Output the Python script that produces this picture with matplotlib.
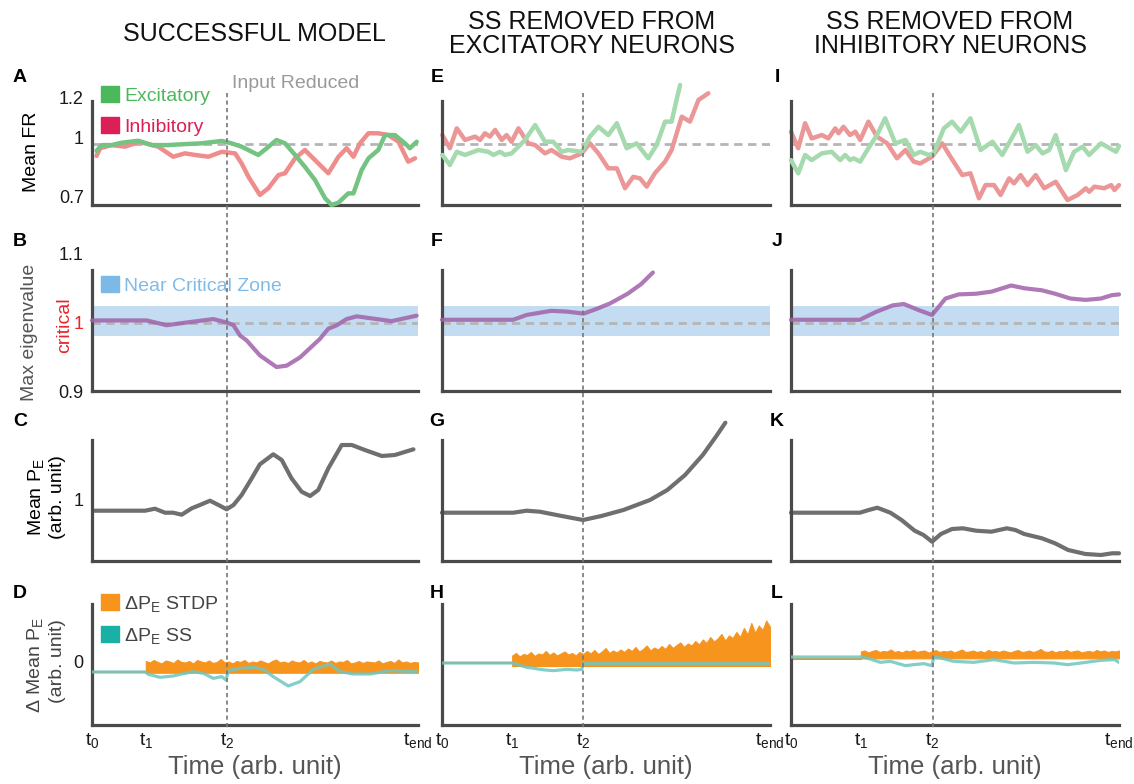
import numpy as np
import matplotlib
matplotlib.use('Agg')
import matplotlib.pyplot as plt
from matplotlib.patches import Patch
from matplotlib.lines import Line2D
import matplotlib.transforms as mtransforms

plt.rcParams['font.family'] = ['Liberation Sans', 'DejaVu Sans']
plt.rcParams['mathtext.fontset'] = 'custom'
plt.rcParams['mathtext.rm'] = 'Liberation Sans'
plt.rcParams['mathtext.it'] = 'Liberation Sans:italic'
plt.rcParams['mathtext.bf'] = 'Liberation Sans:bold'

# ---------------- data ----------------
col_titles = ['SUCCESSFUL MODEL', 'SS REMOVED FROM\nEXCITATORY NEURONS',
              'SS REMOVED FROM\nINHIBITORY NEURONS']
panel_letters = [['A', 'B', 'C', 'D'], ['E', 'F', 'G', 'H'], ['I', 'J', 'K', 'L']]
time_tick_labels = ['t$_0$', 't$_1$', 't$_2$', 't$_{\\rm end}$']
time_marks = [[0, 16.5, 41.4, 100], [0, 21.4, 43.0, 100], [0, 21.3, 43.2, 100]]

# Row A: mean firing rate
t_exc_A = [1.4, 3.0, 6.0, 9.1, 14.2, 18.3, 23.4, 28.5, 33.6, 39.8, 42.8, 45.9, 51.0, 53.6, 56.6,
           59.2, 62.3, 65.3, 68.4, 71.5, 73.5, 75.6, 78.6, 80.2, 82.7, 84.8, 87.8, 89.9, 92.9,
           96.0, 97.5, 99.6]
fr_exc_A = [0.930, 0.959, 0.959, 0.971, 0.981, 0.959, 0.959, 0.964, 0.968, 0.980, 0.968, 0.951,
            0.909, 0.943, 0.985, 0.968, 0.909, 0.849, 0.782, 0.689, 0.655, 0.667, 0.714, 0.714,
            0.832, 0.892, 0.934, 1.010, 1.010, 0.968, 0.943, 0.976]
t_inh_A = [1.4, 2.5, 6.0, 10.1, 14.7, 20.3, 24.9, 28.5, 31.6, 35.7, 39.8, 43.9, 45.9, 48.0, 51.5,
           54.1, 57.2, 59.2, 62.3, 65.3, 68.4, 72.5, 75.6, 78.1, 80.2, 82.2, 84.8, 87.8, 90.9,
           94.0, 97.0, 99.1]
fr_inh_A = [0.904, 0.943, 0.959, 0.951, 0.976, 0.951, 0.900, 0.917, 0.909, 0.900, 0.925, 0.917,
            0.866, 0.798, 0.706, 0.740, 0.807, 0.816, 0.892, 0.934, 0.883, 0.816, 0.900, 0.943,
            0.900, 0.968, 1.019, 1.019, 1.010, 0.976, 0.875, 0.892]

t_exc_E = [0.1, 2.4, 4.5, 7.0, 11.1, 14.1, 15.7, 17.7, 19.2, 21.2, 23.3, 25.3, 28.4, 31.4, 33.9,
           36.5, 38.5, 42.6, 45.1, 47.7, 50.7, 53.3, 56.3, 59.3, 62.9, 65.4, 68.0, 70.0, 71.5, 72.6]
fr_exc_E = [0.909, 0.858, 0.925, 0.909, 0.934, 0.925, 0.909, 0.925, 0.909, 0.917, 0.951, 0.985,
            1.061, 0.976, 0.976, 0.925, 0.934, 0.925, 1.002, 1.052, 1.010, 1.070, 0.943, 0.968,
            0.892, 0.959, 1.078, 1.078, 1.188, 1.264]
t_inh_E = [0.1, 2.4, 4.5, 7.0, 10.1, 11.6, 13.1, 14.6, 16.2, 18.2, 19.7, 21.2, 23.3, 26.3, 28.4,
           31.4, 33.4, 36.5, 39.0, 42.6, 45.1, 47.7, 50.7, 53.3, 55.8, 58.3, 60.4, 62.4, 64.9,
           68.0, 70.0, 73.1, 75.6, 78.2, 81.2]
fr_inh_E = [1.010, 0.943, 1.044, 0.985, 1.002, 0.985, 1.019, 1.002, 1.036, 0.985, 1.010, 0.976,
            1.044, 0.968, 0.959, 0.917, 0.934, 0.900, 0.892, 0.917, 0.968, 0.917, 0.841, 0.841,
            0.740, 0.798, 0.790, 0.748, 0.816, 0.875, 0.934, 1.103, 1.078, 1.188, 1.222]

t_exc_I = [0, 2.2, 4.3, 6.3, 9.4, 12.4, 15.0, 16.5, 18.0, 19.1, 21.1, 23.6, 26.2, 28.7, 31.8,
           34.9, 37.4, 39.4, 42.0, 43.5, 46.6, 49.1, 51.7, 54.7, 57.8, 61.4, 64.4, 67.0, 69.5,
           72.1, 74.6, 76.7, 78.7, 80.7, 83.8, 86.3, 88.9, 90.9, 94.5, 99.1, 100]
fr_exc_I = [0.883, 0.816, 0.909, 0.883, 0.917, 0.925, 0.883, 0.909, 0.883, 0.892, 0.875, 0.943,
            1.010, 1.095, 0.968, 0.985, 0.909, 0.925, 0.909, 0.917, 1.044, 1.078, 1.027, 1.095,
            0.934, 0.976, 0.909, 0.985, 1.061, 0.925, 0.959, 0.917, 0.934, 1.010, 0.832, 0.925,
            0.951, 0.909, 0.968, 0.925, 0.954]
t_inh_I = [0, 2.2, 4.3, 6.3, 9.4, 11.4, 13.5, 14.5, 16.0, 18.0, 19.6, 21.1, 23.6, 26.2, 29.3,
           32.3, 34.9, 37.4, 39.4, 43.0, 46.1, 48.6, 52.2, 54.7, 57.3, 59.3, 61.9, 63.9, 66.5,
           68.0, 70.0, 72.1, 74.6, 77.2, 80.7, 84.3, 87.4, 89.9, 90.9, 92.5, 95.5, 97.6, 98.6, 100]
fr_inh_I = [1.027, 0.943, 1.070, 0.993, 1.010, 0.993, 1.044, 1.019, 1.052, 1.010, 1.027, 0.985,
            1.078, 1.002, 0.968, 0.892, 0.934, 0.875, 0.866, 0.900, 0.968, 0.900, 0.807, 0.816,
            0.689, 0.756, 0.756, 0.706, 0.790, 0.765, 0.807, 0.756, 0.807, 0.740, 0.773, 0.680,
            0.706, 0.740, 0.722, 0.748, 0.740, 0.756, 0.731, 0.756]
fr_target = 0.965

# Row B: max eigenvalue
t_eig_B = [0, 16.8, 22.9, 29.0, 37.2, 41.3, 43.4, 45.4, 47.4, 51.5, 56.6, 59.7, 63.8, 69.9,
           72.5, 75.1, 78.1, 81.2, 87.3, 91.9, 99.6]
eig_B = [1.003, 1.003, 0.996, 1.000, 1.005, 1.000, 0.996, 0.981, 0.974, 0.952, 0.935, 0.937,
         0.949, 0.976, 0.991, 0.996, 1.005, 1.009, 1.005, 1.002, 1.010]
t_eig_F = [0, 21.7, 25.8, 33.2, 37.9, 43.2, 47.2, 51.3, 56.6, 60.7, 64.3]
eig_F = [1.004, 1.004, 1.011, 1.017, 1.016, 1.013, 1.020, 1.028, 1.042, 1.056, 1.073]
t_eig_J = [0, 21.0, 25.7, 31.0, 34.4, 39.0, 43.0, 47.1, 51.1, 56.4, 61.1, 67.1, 71.1, 76.5,
           80.5, 85.2, 89.8, 94.5, 97.9, 100]
eig_J = [1.004, 1.004, 1.015, 1.025, 1.027, 1.018, 1.011, 1.035, 1.041, 1.042, 1.045, 1.054,
         1.050, 1.047, 1.042, 1.035, 1.033, 1.035, 1.040, 1.041]
critical_value = 1.0
near_critical_zone = (0.980, 1.024)

# Row C: mean P_E
t_pe_C = [0.4, 16.3, 19.3, 22.4, 24.9, 27.5, 30.6, 33.1, 36.2, 38.8, 41.3, 43.4, 45.9, 49.0,
          51.5, 55.6, 58.2, 61.2, 64.3, 66.9, 69.4, 72.5, 76.6, 79.7, 83.7, 88.9, 92.9, 98.6]
pe_C = [0.893, 0.893, 0.913, 0.873, 0.873, 0.853, 0.917, 0.950, 0.993, 0.950, 0.907, 0.950,
        1.050, 1.217, 1.357, 1.457, 1.400, 1.217, 1.083, 1.040, 1.100, 1.317, 1.550, 1.550,
        1.500, 1.440, 1.450, 1.507]
t_pe_G = [0, 21.7, 25.8, 29.8, 36.5, 43.0, 48.6, 55.3, 63.4, 68.7, 74.1, 79.5, 83.5, 86.4]
pe_G = [0.873, 0.873, 0.893, 0.883, 0.840, 0.800, 0.840, 0.900, 1.000, 1.100, 1.250, 1.450,
        1.633, 1.773]
t_pe_K = [0, 21.0, 23.7, 26.3, 30.3, 33.7, 37.7, 40.4, 43.0, 45.7, 49.1, 52.4, 56.4, 61.1,
          65.8, 68.4, 71.1, 76.5, 80.5, 84.5, 89.8, 94.5, 97.9, 100]
pe_K = [0.873, 0.873, 0.900, 0.923, 0.873, 0.800, 0.693, 0.650, 0.583, 0.660, 0.710, 0.717,
        0.693, 0.683, 0.717, 0.700, 0.660, 0.617, 0.567, 0.500, 0.460, 0.450, 0.467, 0.467]

# Row D: change of mean P_E (SS line and STDP bars)
t_ss_D = [0, 16.3, 17.3, 20.9, 24.9, 27.5, 31.1, 34.2, 37.2, 39.8, 41.1, 41.8, 45.4, 49.5,
          52.6, 55.6, 60.2, 63.8, 67.9, 73.0, 76.1, 80.2, 85.3, 91.4, 99.6]
ss_D = [0, 0, -0.047, -0.107, -0.080, -0.040, 0.007, -0.027, -0.127, -0.093, -0.160, 0.027,
        0.073, 0.093, 0.053, -0.093, -0.280, -0.193, 0.053, 0.160, 0.007, -0.040, -0.040,
        0.027, 0.007]
t_ss_H = [0, 21.7, 25.8, 27.5, 29.9, 31.5, 33.9, 36.0, 38.0, 41.1, 42.6, 43.1, 100]
ss_H = [0, 0, -0.087, -0.100, -0.127, -0.140, -0.153, -0.140, -0.127, -0.140, -0.127, -0.013,
        -0.013]
t_ss_L = [0, 21.6, 24.2, 27.2, 30.3, 34.9, 37.4, 40.5, 43.0, 43.5, 45.6, 49.6, 55.7, 61.9,
          68.0, 74.1, 80.2, 84.3, 88.4, 94.5, 98.6, 100]
ss_L = [0, 0, -0.040, -0.107, -0.087, -0.173, -0.153, -0.133, -0.173, 0, -0.020, -0.087,
        -0.107, -0.053, -0.120, -0.107, -0.120, -0.153, -0.120, -0.067, -0.053, -0.107]

stdp_top_D = [0.22, 0.19, 0.24, 0.20, 0.17, 0.23, 0.21, 0.18, 0.25, 0.20,
              0.19, 0.22, 0.17, 0.24, 0.21, 0.19, 0.23, 0.18, 0.20, 0.26,
              0.19, 0.21, 0.17, 0.22, 0.20, 0.24, 0.18, 0.21, 0.19, 0.23,
              0.20, 0.17, 0.22, 0.25, 0.19, 0.21, 0.18, 0.23, 0.20, 0.19,
              0.24, 0.18, 0.21, 0.17, 0.22, 0.20, 0.19, 0.23, 0.18, 0.21,
              0.20, 0.24, 0.17, 0.19, 0.22, 0.18, 0.21, 0.20, 0.19, 0.23,
              0.17, 0.20, 0.22, 0.18, 0.25, 0.19, 0.21, 0.18, 0.20, 0.19]
stdp_top_H = [0.15, 0.20, 0.13, 0.18, 0.16, 0.22, 0.14, 0.19, 0.17, 0.24,
              0.16, 0.21, 0.15, 0.19, 0.23, 0.17, 0.20, 0.15, 0.22, 0.18,
              0.24, 0.19, 0.26, 0.18, 0.23, 0.30, 0.20, 0.25, 0.21, 0.27,
              0.22, 0.29, 0.24, 0.32, 0.23, 0.28, 0.35, 0.25, 0.31, 0.27,
              0.34, 0.28, 0.38, 0.30, 0.36, 0.41, 0.32, 0.39, 0.35, 0.44,
              0.37, 0.47, 0.40, 0.52, 0.43, 0.49, 0.58, 0.45, 0.55, 0.50,
              0.62, 0.52, 0.70, 0.57, 0.80, 0.60, 0.75, 0.66, 0.85, 0.72]
stdp_top_L = [0.11, 0.13, 0.09, 0.12, 0.14, 0.10, 0.12, 0.11, 0.15, 0.10,
              0.12, 0.09, 0.13, 0.11, 0.14, 0.10, 0.12, 0.13, 0.09, 0.11,
              0.14, 0.10, 0.12, 0.11, 0.13, 0.09, 0.12, 0.15, 0.10, 0.11,
              0.13, 0.10, 0.12, 0.09, 0.14, 0.11, 0.12, 0.10, 0.13, 0.11,
              0.09, 0.12, 0.14, 0.10, 0.11, 0.13, 0.10, 0.12, 0.16, 0.11,
              0.10, 0.13, 0.09, 0.12, 0.11, 0.14, 0.10, 0.12, 0.13, 0.09,
              0.11, 0.12, 0.10, 0.14, 0.11, 0.13, 0.10, 0.12, 0.11, 0.13]
stdp_floor = [-0.015, -0.06, -0.027]
stdp_pre = [0.0, 0.0, -0.04]

# ---------------- style ----------------
GREEN = ['#74c382', '#a5d9ae', '#a5d9ae']
RED = ['#ef8c8c', '#ec9797', '#ec9797']
PURPLE = '#a062aa'
GRAYLINE = '#6f6f6f'
TEAL = '#6fc6c1'
ORANGE = '#f7941e'
BAND = '#c4dcf1'
SPINE = '#4a4a4a'
DASH = '#b5b5b5'

W, H = 1134, 784
fig = plt.figure(figsize=(W / 100, H / 100), dpi=100)


def rect(l, r, t, b):
    return [l / W, 1 - b / H, (r - l) / W, (b - t) / H]


col_px = [(92, 418), (442, 770), (791, 1119)]
row_px = [(84, 205), (254, 391), (420, 561), (604, 725)]
row_ylim = [[(0.655, 1.269)] * 3, [(0.9, 1.1)] * 3, [(0.39, 1.80)] * 3,
            [(-1.06, 1.36), (-1.24, 1.18), (-1.36, 1.06)]]
row_spine = [(0.655, 1.183), (0.9, 1.077), (0.39, 1.60), None]

axes = [[None] * 4 for _ in range(3)]
for c in range(3):
    for r in range(4):
        ax = fig.add_axes(rect(col_px[c][0], col_px[c][1], row_px[r][0], row_px[r][1]))
        ax.set_xlim(0, 100)
        ax.set_ylim(*row_ylim[r][c])
        ax.patch.set_alpha(0)
        for s in ['top', 'right']:
            ax.spines[s].set_visible(False)
        for s in ['left', 'bottom']:
            ax.spines[s].set_color(SPINE)
            ax.spines[s].set_linewidth(2.3)
        if row_spine[r] is not None:
            ax.spines['left'].set_bounds(*row_spine[r])
        ax.tick_params(length=0, labelsize=13, pad=6, colors='#1a1a1a')
        ax.set_xticks([])
        ax.set_yticks([])
        axes[c][r] = ax

LINE_KW = dict(solid_capstyle='round', solid_joinstyle='round', clip_on=False)

# Row A
fr_sets = [(t_exc_A, fr_exc_A, t_inh_A, fr_inh_A), (t_exc_E, fr_exc_E, t_inh_E, fr_inh_E),
           (t_exc_I, fr_exc_I, t_inh_I, fr_inh_I)]
for c in range(3):
    ax = axes[c][0]
    te, fe, ti, fi = fr_sets[c]
    ax.axhline(fr_target, color=DASH, lw=2.0, ls=(0, (3, 2)), zorder=1)
    ax.plot(te, fe, color=GREEN[c], lw=3.2, zorder=3, **LINE_KW)
    ax.plot(ti, fi, color=RED[c], lw=3.2, zorder=2, **LINE_KW)

# Row B
eig_sets = [(t_eig_B, eig_B), (t_eig_F, eig_F), (t_eig_J, eig_J)]
for c in range(3):
    ax = axes[c][1]
    ax.axhspan(*near_critical_zone, color=BAND, lw=0, zorder=1)
    ax.axhline(critical_value, color=DASH, lw=2.0, ls=(0, (3, 2)), zorder=2)
    ax.plot(*eig_sets[c], color=PURPLE, lw=3.0, alpha=0.85, zorder=3, **LINE_KW)

# Row C
pe_sets = [(t_pe_C, pe_C), (t_pe_G, pe_G), (t_pe_K, pe_K)]
for c in range(3):
    axes[c][2].plot(*pe_sets[c], color=GRAYLINE, lw=3.0, **LINE_KW)

# Row D
ss_sets = [(t_ss_D, ss_D), (t_ss_H, ss_H), (t_ss_L, ss_L)]
stdp_tops = [stdp_top_D, stdp_top_H, stdp_top_L]
for c in range(3):
    ax = axes[c][3]
    t1 = time_marks[c][1]
    tb = np.linspace(t1, 100, len(stdp_tops[c]))
    ax.plot([0, t1], [stdp_pre[c], stdp_pre[c]], color=ORANGE, lw=1.5, zorder=2)
    ax.fill_between(tb, stdp_floor[c], stdp_tops[c], color=ORANGE, lw=0.8,
                    edgecolor=ORANGE, zorder=2)
    ax.plot(*ss_sets[c], color=TEAL, lw=2.3, alpha=0.85, zorder=3)
    ax.set_xticks(time_marks[c])
    ax.set_xticklabels(time_tick_labels, fontsize=14)
    ax.tick_params(axis='x', pad=4)
    ax.set_xlabel('Time (arb. unit)', fontsize=18.5, color='#555555', labelpad=4)

# y ticks (first column)
axA, axB, axC, axD = axes[0]
axA.set_yticks([0.7, 1.0, 1.2])
axA.set_yticklabels(['0.7', '1', '1.2'])
axB.set_yticks([0.9, 1.0, 1.1])
axB.set_yticklabels(['0.9', '1', '1.1'])
axB.yaxis.get_major_ticks()[1].label1.set_color('#e8262b')
axC.set_yticks([1.0])
axC.set_yticklabels(['1'])
axD.set_yticks([0])
axD.set_yticklabels(['0'])
off = mtransforms.ScaledTranslation(0, 11 / 100, fig.dpi_scale_trans)
for tk in axD.yaxis.get_major_ticks():
    tk.label1.set_transform(tk.label1.get_transform() + off)

# vertical t2 lines across all rows
for c in range(3):
    t2 = time_marks[c][2]
    tr = mtransforms.blended_transform_factory(axes[c][0].transData, fig.transFigure)
    fig.add_artist(Line2D([t2, t2], [1 - 93 / H, 1 - 728 / H], transform=tr, color='#777777',
                          lw=1.2, ls=(0, (2.5, 2))))


def fx(x): return x / W
def fy(y): return 1 - y / H


axA.legend(handles=[Patch(color='#4cb85c'), Patch(color='#dc1f56')],
           labels=['Excitatory', 'Inhibitory'], labelcolor=['#4cb85c', '#dc1f56'],
           loc='upper left', bbox_to_anchor=(fx(101), fy(86)), bbox_transform=fig.transFigure,
           frameon=False, fontsize=14, handlelength=0.9, handleheight=0.9,
           handletextpad=0.3, borderpad=0, borderaxespad=0, labelspacing=0.62)
axB.legend(handles=[Patch(color='#7db9e6')], labels=['Near Critical Zone'],
           labelcolor=['#80bbe8'], loc='upper left', bbox_to_anchor=(fx(101), fy(276)),
           bbox_transform=fig.transFigure, frameon=False, fontsize=14, handlelength=0.9,
           handleheight=0.9, handletextpad=0.3, borderpad=0, borderaxespad=0)
axD.legend(handles=[Patch(color=ORANGE), Patch(color='#1ab0a6')],
           labels=['ΔP$_\\mathrm{E}$ STDP', 'ΔP$_\\mathrm{E}$ SS'], labelcolor=['#444444', '#444444'],
           loc='upper left', bbox_to_anchor=(fx(101), fy(594)), bbox_transform=fig.transFigure,
           frameon=False, fontsize=14, handlelength=0.9, handleheight=0.9,
           handletextpad=0.3, borderpad=0, borderaxespad=0, labelspacing=0.6)

# "Input Reduced"
trA = mtransforms.blended_transform_factory(axA.transData, axA.transAxes)
axA.text(time_marks[0][2] + 1.5, 1.0, 'Input Reduced', transform=trA, fontsize=14,
         color='#9a9a9a', ha='left', va='center')

# y labels
fig.text(fx(32), fy(152), 'Mean FR', rotation=90, ha='center', va='center', fontsize=14)
fig.text(fx(30), fy(332), 'Max eigenvalue', rotation=90, ha='center', va='center',
         fontsize=14, color='#555555')
fig.text(fx(65), fy(325), 'critical', rotation=90, ha='center', va='center', fontsize=14,
         color='#e8262b')
fig.text(fx(36), fy(497), 'Mean P$_\\mathrm{E}$', rotation=90, ha='center', va='center', fontsize=14)
fig.text(fx(57), fy(497), '(arb. unit)', rotation=90, ha='center', va='center', fontsize=14)
fig.text(fx(35), fy(665), 'Δ Mean P$_\\mathrm{E}$', rotation=90, ha='center', va='center',
         fontsize=14, color='#444444')
fig.text(fx(57), fy(661), '(arb. unit)', rotation=90, ha='center', va='center', fontsize=14,
         color='#444444')

# column titles
title_x = [254, 592, 950]
for c in range(3):
    fig.text(fx(title_x[c]), fy(34), col_titles[c], ha='center', va='center', fontsize=18,
             linespacing=1.05, color='#111111')

# panel letters
letter_x = [20, 437, 777]
letter_y = [78, 242, 422, 593]
for c in range(3):
    for r in range(4):
        fig.text(fx(letter_x[c]), fy(letter_y[r]), panel_letters[c][r], ha='center',
                 va='center', fontsize=14, fontweight='bold')

fig.savefig('out.png', dpi=100)
